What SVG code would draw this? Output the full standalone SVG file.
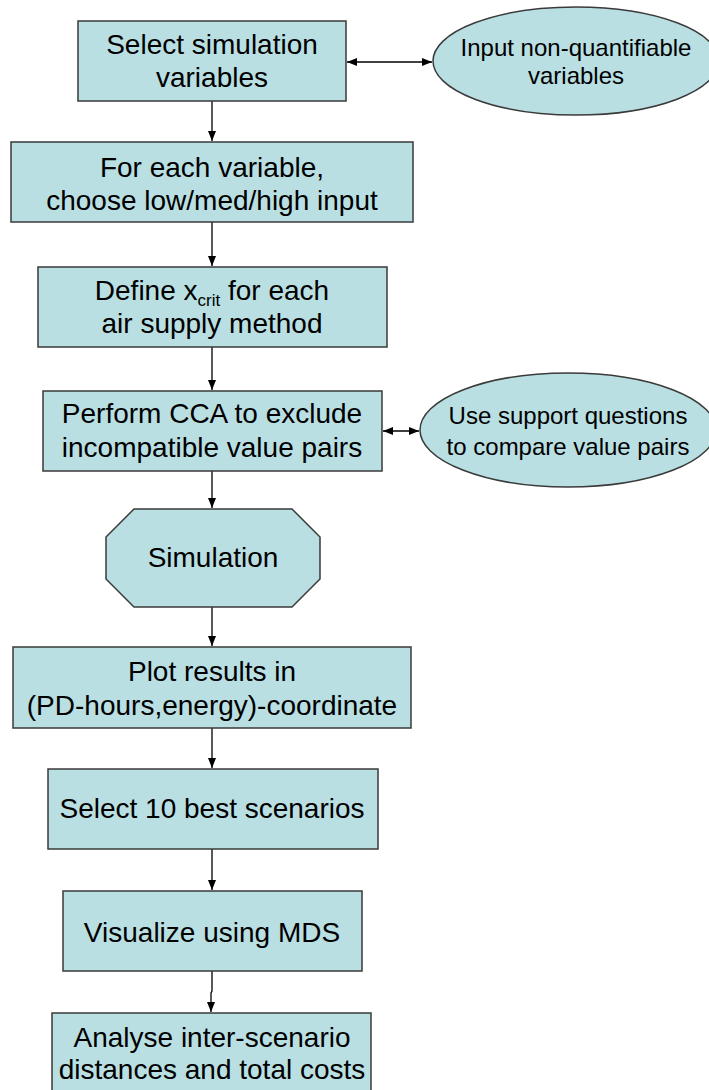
<svg xmlns="http://www.w3.org/2000/svg" width="709" height="1090" viewBox="0 0 709 1090">
<style>
.n{fill:#B9DFE3;stroke:#3a3a3a;stroke-width:1.5}
.t{font-family:"Liberation Sans",Arial,sans-serif;font-size:28px;fill:#000;text-anchor:middle}
.te{font-family:"Liberation Sans",Arial,sans-serif;font-size:24px;fill:#000;text-anchor:middle}
.c{fill:none;stroke:#000;stroke-width:1.3}
</style>
<defs>
<marker id="ah" markerUnits="userSpaceOnUse" markerWidth="10" markerHeight="10" viewBox="0 0 10 10" refX="10" refY="5" orient="auto-start-reverse">
<path d="M0,1 L10,5 L0,9 Z" fill="#000"/>
</marker>
</defs>
<rect width="709" height="1090" fill="#fff"/>
<g id="connectors">
<line class="c" x1="347" y1="62" x2="432" y2="62" marker-start="url(#ah)" marker-end="url(#ah)"/>
<line class="c" x1="383" y1="431" x2="419" y2="431" marker-start="url(#ah)" marker-end="url(#ah)"/>
<line class="c" x1="212" y1="101" x2="212" y2="141" marker-end="url(#ah)"/>
<line class="c" x1="212" y1="222" x2="212" y2="266" marker-end="url(#ah)"/>
<line class="c" x1="212" y1="347" x2="212" y2="390" marker-end="url(#ah)"/>
<line class="c" x1="212" y1="471" x2="212" y2="508" marker-end="url(#ah)"/>
<line class="c" x1="212" y1="607" x2="212" y2="646" marker-end="url(#ah)"/>
<line class="c" x1="212" y1="728" x2="212" y2="768" marker-end="url(#ah)"/>
<line class="c" x1="212" y1="849" x2="212" y2="890" marker-end="url(#ah)"/>
<path class="c" d="M212,971 L212,991 L211,993 L211,1012" marker-end="url(#ah)"/>
</g>
<g id="n1">
<rect class="n" x="78" y="21" width="268" height="80"/>
<text class="t" x="212" y="54">Select simulation</text>
<text class="t" x="212" y="87">variables</text>
</g>
<g id="e1">
<ellipse class="n" cx="576" cy="61" rx="143" ry="54"/>
<text class="te" x="576" y="56">Input non-quantifiable</text>
<text class="te" x="576" y="84">variables</text>
</g>
<g id="n2">
<rect class="n" x="11" y="142" width="402" height="80"/>
<text class="t" x="212" y="177">For each variable,</text>
<text class="t" x="212" y="210">choose low/med/high input</text>
</g>
<g id="n3">
<rect class="n" x="38" y="267" width="349" height="80"/>
<text class="t" x="212" y="300">Define x<tspan font-size="17" dy="6">crit</tspan><tspan dy="-6"> for each</tspan></text>
<text class="t" x="212" y="333">air supply method</text>
</g>
<g id="n4">
<rect class="n" x="43" y="391" width="339" height="80"/>
<text class="t" x="212" y="423">Perform CCA to exclude</text>
<text class="t" x="212" y="457">incompatible value pairs</text>
</g>
<g id="e2">
<ellipse class="n" cx="568" cy="430" rx="148" ry="57"/>
<text class="te" x="568" y="424">Use support questions</text>
<text class="te" x="568" y="455">to compare value pairs</text>
</g>
<g id="n5">
<polygon class="n" points="134,509 292,509 320,537 320,579 292,607 134,607 106,579 106,537"/>
<text class="t" x="213" y="567">Simulation</text>
</g>
<g id="n6">
<rect class="n" x="13" y="647" width="398" height="81"/>
<text class="t" x="212" y="681">Plot results in</text>
<text class="t" x="212" y="715">(PD-hours,energy)-coordinate</text>
</g>
<g id="n7">
<rect class="n" x="48" y="769" width="330" height="80"/>
<text class="t" x="212" y="818">Select 10 best scenarios</text>
</g>
<g id="n8">
<rect class="n" x="63" y="891" width="299" height="80"/>
<text class="t" x="212" y="942">Visualize using MDS</text>
</g>
<g id="n9">
<rect class="n" x="52" y="1013" width="319" height="85"/>
<text class="t" x="212" y="1047">Analyse inter-scenario</text>
<text class="t" x="212" y="1079">distances and total costs</text>
</g>
</svg>
